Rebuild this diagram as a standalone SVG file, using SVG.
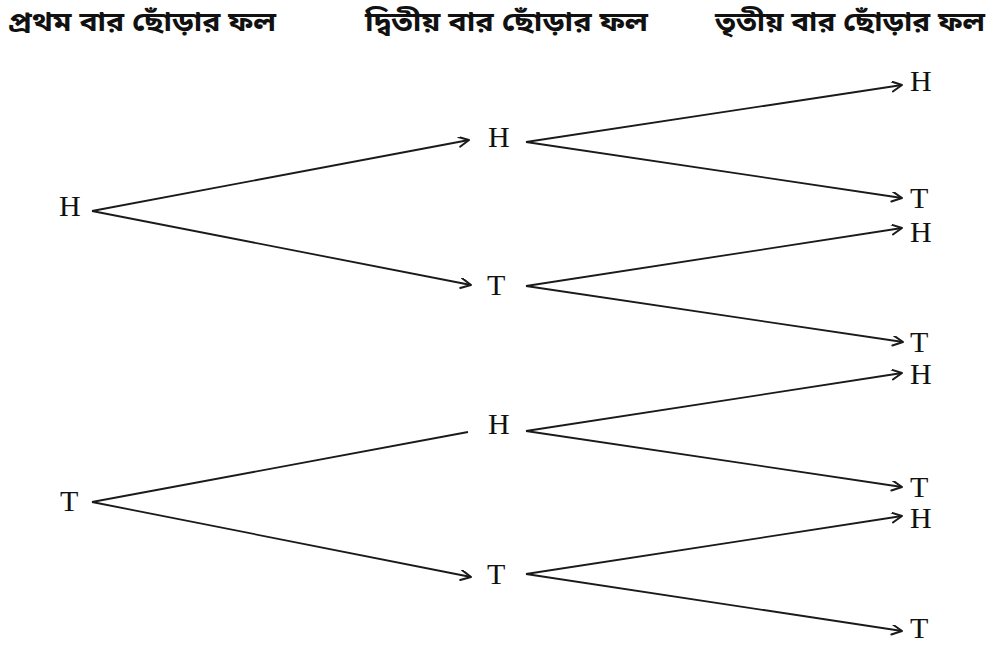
<svg xmlns="http://www.w3.org/2000/svg" width="997" height="645" viewBox="0 0 997 645">
  <defs>
    <marker id="arrow" markerWidth="14" markerHeight="12" refX="11" refY="5" orient="auto" markerUnits="userSpaceOnUse">
      <path d="M1,0 L11,5 L1,10" fill="none" stroke="#1a1a1a" stroke-width="2" stroke-linecap="round" stroke-linejoin="round"/>
    </marker>
    <style>
      .hdr { font-family: "Noto Sans Bengali", "Noto Serif Bengali", "Lohit Bengali", "Noto Sans", sans-serif; font-size: 26px; font-weight: bold; fill: #111; }
      .lbl { font-family: "Liberation Serif", "Times New Roman", serif; font-size: 30px; fill: #111; }
      .edge { stroke: #1a1a1a; stroke-width: 1.8; fill: none; }
      .arr { marker-end: url(#arrow); }
    </style>
  </defs>

  <!-- column headings -->
  <g id="headings">
    <text class="hdr" x="8" y="31" textLength="268" lengthAdjust="spacingAndGlyphs">প্রথম বার ছোঁড়ার ফল</text>
    <text class="hdr" x="365" y="31" textLength="283" lengthAdjust="spacingAndGlyphs">দ্বিতীয় বার ছোঁড়ার ফল</text>
    <text class="hdr" x="715" y="31" textLength="270" lengthAdjust="spacingAndGlyphs">তৃতীয় বার ছোঁড়ার ফল</text>
  </g>

  <!-- first toss -->
  <g id="n1H"><text class="lbl" x="59" y="216">H</text></g>
  <g id="n1T"><text class="lbl" x="60" y="511">T</text></g>

  <!-- second toss -->
  <g id="n2HH"><text class="lbl" x="488" y="147">H</text></g>
  <g id="n2HT"><text class="lbl" x="487" y="295">T</text></g>
  <g id="n2TH"><text class="lbl" x="488" y="434">H</text></g>
  <g id="n2TT"><text class="lbl" x="487" y="584">T</text></g>

  <!-- third toss -->
  <g id="n3HHH"><text class="lbl" x="910" y="91">H</text></g>
  <g id="n3HHT"><text class="lbl" x="910" y="208">T</text></g>
  <g id="n3HTH"><text class="lbl" x="910" y="242">H</text></g>
  <g id="n3HTT"><text class="lbl" x="910" y="352">T</text></g>
  <g id="n3THH"><text class="lbl" x="910" y="384">H</text></g>
  <g id="n3THT"><text class="lbl" x="910" y="497">T</text></g>
  <g id="n3TTH"><text class="lbl" x="910" y="528">H</text></g>
  <g id="n3TTT"><text class="lbl" x="910" y="638">T</text></g>

  <!-- branches -->
  <g id="connectors">
    <line class="edge arr" x1="92" y1="211" x2="469" y2="140"/>
    <line class="edge arr" x1="92" y1="211" x2="471" y2="285"/>
    <line class="edge" x1="92" y1="502" x2="468" y2="432"/>
    <line class="edge arr" x1="92" y1="502" x2="471" y2="577"/>

    <line class="edge arr" x1="526" y1="142" x2="902" y2="85"/>
    <line class="edge arr" x1="526" y1="142" x2="902" y2="198"/>
    <line class="edge arr" x1="526" y1="286" x2="902" y2="228"/>
    <line class="edge arr" x1="526" y1="286" x2="903" y2="342"/>
    <line class="edge arr" x1="526" y1="431" x2="902" y2="373"/>
    <line class="edge arr" x1="526" y1="431" x2="902" y2="487"/>
    <line class="edge arr" x1="526" y1="574" x2="902" y2="516"/>
    <line class="edge arr" x1="526" y1="574" x2="902" y2="631"/>
  </g>
</svg>
